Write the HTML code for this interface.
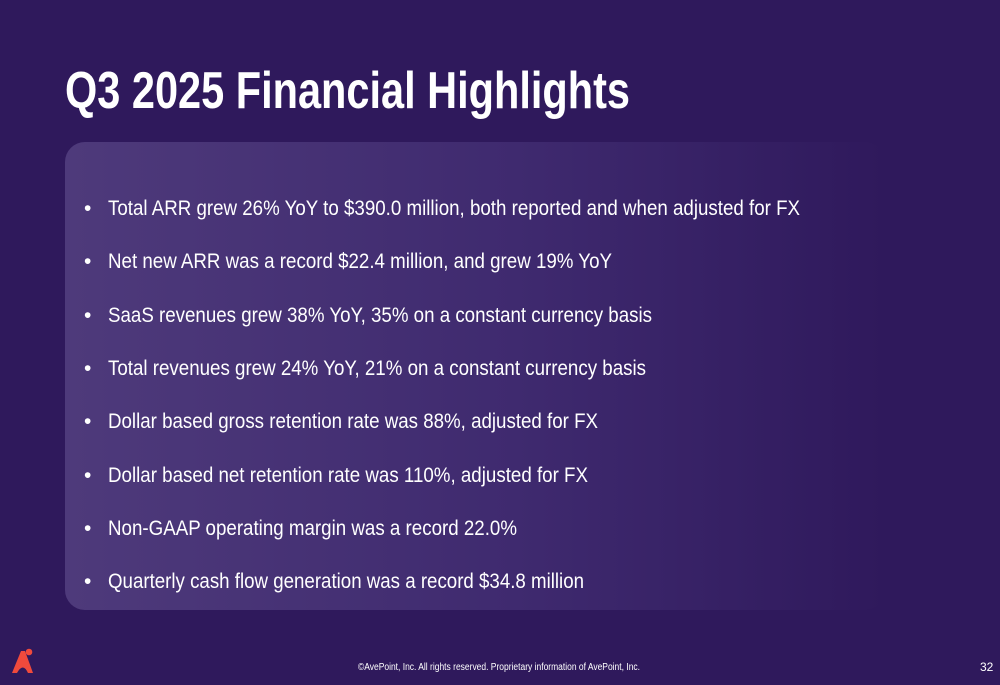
<!DOCTYPE html>
<html><head><meta charset="utf-8"><style>
html,body{margin:0;padding:0;background:#2f195c;}
svg{display:block}
</style></head><body>
<svg width="1000" height="685" viewBox="0 0 1000 685" xmlns="http://www.w3.org/2000/svg">
<defs>
<linearGradient id="g" x1="0" x2="1" y1="0" y2="0">
<stop offset="0" stop-color="#4e3a7b"/>
<stop offset="0.55" stop-color="#3f2a6f"/>
<stop offset="1" stop-color="#2f195c"/>
</linearGradient>
</defs>
<rect width="1000" height="685" fill="#2f195c"/>
<rect x="65" y="142" width="820" height="468" rx="20" fill="url(#g)"/>
<g font-family="Liberation Sans, Arial, sans-serif" fill="#ffffff">
<text x="65" y="108" font-size="52" font-weight="bold" textLength="565" lengthAdjust="spacingAndGlyphs">Q3 2025 Financial Highlights</text>
<g font-size="21">
<text x="84" y="215">•</text><text x="108" y="215" textLength="692" lengthAdjust="spacingAndGlyphs">Total ARR grew 26% YoY to $390.0 million, both reported and when adjusted for FX</text>
<text x="84" y="268">•</text><text x="108" y="268" textLength="504" lengthAdjust="spacingAndGlyphs">Net new ARR was a record $22.4 million, and grew 19% YoY</text>
<text x="84" y="322">•</text><text x="108" y="322" textLength="544" lengthAdjust="spacingAndGlyphs">SaaS revenues grew 38% YoY, 35% on a constant currency basis</text>
<text x="84" y="375">•</text><text x="108" y="375" textLength="538" lengthAdjust="spacingAndGlyphs">Total revenues grew 24% YoY, 21% on a constant currency basis</text>
<text x="84" y="428">•</text><text x="108" y="428" textLength="490" lengthAdjust="spacingAndGlyphs">Dollar based gross retention rate was 88%, adjusted for FX</text>
<text x="84" y="482">•</text><text x="108" y="482" textLength="480" lengthAdjust="spacingAndGlyphs">Dollar based net retention rate was 110%, adjusted for FX</text>
<text x="84" y="535">•</text><text x="108" y="535" textLength="409" lengthAdjust="spacingAndGlyphs">Non-GAAP operating margin was a record 22.0%</text>
<text x="84" y="588">•</text><text x="108" y="588" textLength="476" lengthAdjust="spacingAndGlyphs">Quarterly cash flow generation was a record $34.8 million</text>
</g>
<text x="358" y="670" font-size="10" textLength="282" lengthAdjust="spacingAndGlyphs">©AvePoint, Inc. All rights reserved. Proprietary information of AvePoint, Inc.</text>
<text x="980" y="671" font-size="12">32</text>
</g>
<path d="M12 673 L21 651 L25 651 L33 673 L28 673 Q23 662 17 673 Z" fill="#f04a3c"/>
<circle cx="29" cy="652" r="3.3" fill="#f04a3c"/>
</svg>
</body></html>
